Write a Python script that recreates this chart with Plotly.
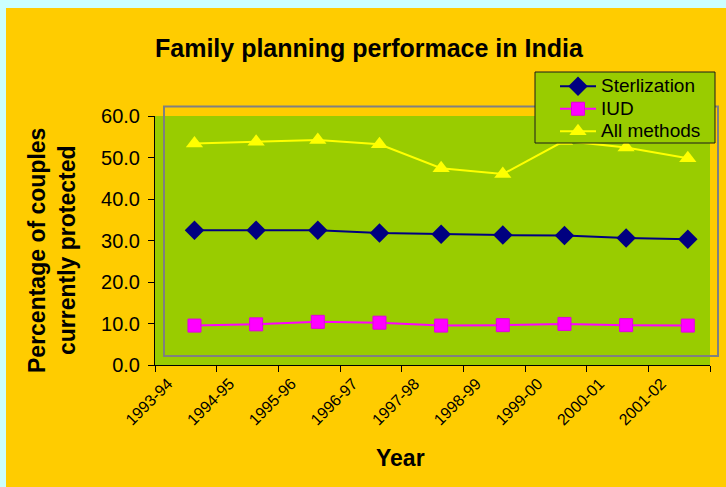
import plotly.graph_objects as go

years = ["1993-94", "1994-95", "1995-96", "1996-97", "1997-98",
         "1998-99", "1999-00", "2000-01", "2001-02"]
sterilization = [32.5, 32.5, 32.5, 31.8, 31.5, 31.3, 31.2, 30.6, 30.3]
iud = [9.5, 9.8, 10.4, 10.2, 9.5, 9.6, 9.9, 9.6, 9.5]
all_methods = [53.4, 53.8, 54.2, 53.2, 47.4, 46.0, 54.0, 52.4, 49.8]
series_names = ["Sterlization", "IUD", "All methods"]

y_ticks = [0, 10, 20, 30, 40, 50, 60]

# points sit a little to the right of each category tick (as in the original)
POINT_OFFSET = 0.64
idx = list(range(len(years)))
xs = [i + POINT_OFFSET for i in idx]

FONT = "Liberation Sans, Arial, sans-serif"


def legend_label(name):
    return '<span style="font-size:19px">' + name + '</span>'


fig = go.Figure()
fig.add_trace(go.Scatter(
    x=xs, y=sterilization, name=legend_label(series_names[0]), mode="lines+markers",
    line=dict(color="#000080", width=2),
    marker=dict(symbol="diamond", size=15, color="#000080")))
fig.add_trace(go.Scatter(
    x=xs, y=iud, name=legend_label(series_names[1]), mode="lines+markers",
    line=dict(color="#FF00FF", width=2),
    marker=dict(symbol="square", size=13, color="#FF00FF",
                line=dict(color="#E000E0", width=1))))
fig.add_trace(go.Scatter(
    x=xs, y=all_methods, name=legend_label(series_names[2]), mode="lines+markers",
    line=dict(color="#FFFF00", width=2),
    marker=dict(symbol="triangle-up", size=15, color="#FFFF00")))

L, R, T, B = 155, 16, 116, 122
W, H = 726, 487
pw, ph = W - L - R, H - T - B


def px(xp):
    return (xp - L) / pw


def py(yp):
    return (H - B - yp) / ph


shapes = [
    # light cyan frame strips (top and left)
    dict(type="rect", xref="paper", yref="paper", x0=px(-5), x1=px(W + 5),
         y0=py(8), y1=py(-5), fillcolor="#CCFFFF", line=dict(width=0), layer="above"),
    dict(type="rect", xref="paper", yref="paper", x0=px(-5), x1=px(6),
         y0=py(H + 5), y1=py(-5), fillcolor="#CCFFFF", line=dict(width=0), layer="above"),
    # grey frame rectangle
    dict(type="rect", xref="paper", yref="paper", x0=px(164), x1=px(718),
         y0=py(356), y1=py(106.5), line=dict(color="#808080", width=2),
         fillcolor="rgba(0,0,0,0)", layer="above"),
    # legend box
    dict(type="rect", xref="paper", yref="paper", x0=px(535), x1=px(715),
         y0=py(143), y1=py(72), line=dict(color="#1a1a1a", width=1),
         fillcolor="#99CC00", layer="above"),
]

fig.update_layout(
    width=W, height=H,
    margin=dict(l=L, r=R, t=T, b=B),
    paper_bgcolor="#FFCC00",
    plot_bgcolor="#99CC00",
    font=dict(family=FONT, color="black"),
    shapes=shapes,
    showlegend=True,
    legend=dict(
        x=px(555), y=py(70), xanchor="left", yanchor="top",
        bgcolor="rgba(0,0,0,0)", borderwidth=0,
        font=dict(size=15, family=FONT), tracegroupgap=0,
        itemwidth=36),
    annotations=[
        dict(text="<b>Family planning performace in India</b>", xref="paper", yref="paper",
             x=px(369), y=py(48), xanchor="center", yanchor="middle", showarrow=False,
             font=dict(size=25, family=FONT)),
        dict(text="<b>Percentage of couples<br>currently protected</b>", xref="paper",
             yref="paper", x=px(52), y=py(251), xanchor="center", yanchor="middle",
             textangle=-90, showarrow=False, font=dict(size=23, family=FONT)),
        dict(text="<b>Year</b>", xref="paper", yref="paper", x=px(400), y=py(458),
             xanchor="center", yanchor="middle", showarrow=False,
             font=dict(size=23, family=FONT)),
    ],
)

fig.update_xaxes(
    range=[0, len(years)], tickmode="array",
    tickvals=idx + [len(years)], ticktext=years + [""],
    tickangle=-45, ticks="outside", ticklen=6, tickcolor="black",
    ticklabelshift=13, ticklabelstandoff=-4,
    showline=True, linecolor="black", linewidth=1, showgrid=False, zeroline=False,
    tickfont=dict(size=16, family=FONT), fixedrange=True,
)
fig.update_yaxes(
    range=[0, 60], tickmode="array", tickvals=y_ticks,
    tickformat=".1f", ticks="outside", ticklen=6, tickcolor="black",
    ticklabelstandoff=4,
    showline=True, linecolor="black", linewidth=1, showgrid=False, zeroline=False,
    tickfont=dict(size=20, family=FONT), fixedrange=True,
)

fig.write_html("out.html", config={"displayModeBar": False},
               post_script="document.body.style.margin='0px';document.body.style.overflow='hidden';")
